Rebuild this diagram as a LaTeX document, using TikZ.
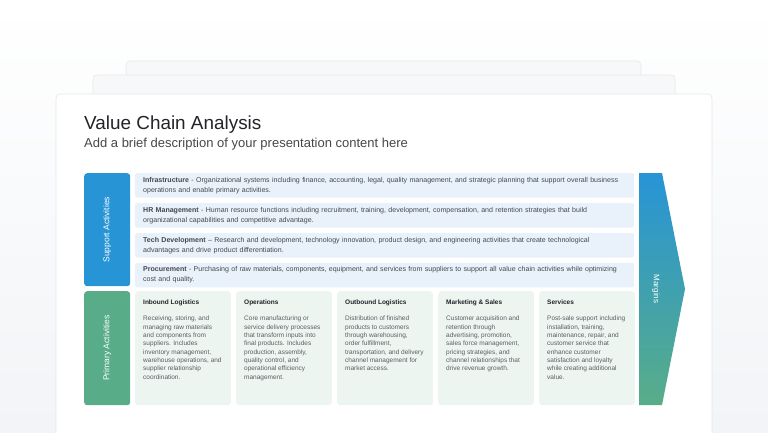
\documentclass[tikz,border=0pt]{standalone}
\usepackage{fontspec}
\setmainfont{Liberation Sans}
\usetikzlibrary{positioning}

\definecolor{supblue}{HTML}{2794D6}
\definecolor{primgreen}{HTML}{58AD88}
\definecolor{rowblue}{HTML}{E9F2FB}
\definecolor{colgreen}{HTML}{EDF5F1}
\definecolor{cardline}{HTML}{E4E7EB}
\definecolor{backcard}{HTML}{F7F8FA}
\definecolor{bgbottom}{HTML}{F2F4F7}
\definecolor{titletext}{HTML}{222428}
\definecolor{subtext}{HTML}{44474C}
\definecolor{bodytext}{HTML}{45484D}
\definecolor{coltext}{HTML}{5A5E63}

\begin{document}
\begin{tikzpicture}[x=1pt,y=-1pt,
  card/.style={draw=cardline,line width=0.6pt,rounded corners=4pt},
  sidebox/.style={rounded corners=3pt,minimum width=46pt,inner sep=0pt,text=white,font=\fontsize{8.5}{10}\selectfont},
  suprow/.style={fill=rowblue,rounded corners=2pt,minimum width=499pt,minimum height=24.5pt,text width=483pt,inner xsep=8pt,inner ysep=0pt,align=left,text=bodytext,font=\fontsize{7.05}{10}\selectfont},
  pcol/.style={fill=colgreen,rounded corners=3pt,minimum width=95.6pt,minimum height=114pt,inner sep=0pt},
  ptext/.style={anchor=north west,align=left,inner sep=0pt,text=coltext,font=\fontsize{6.5}{8.3}\selectfont},
  ptitle/.style={text=titletext}]

  \clip (0,0) rectangle (768,432);
  \shade[top color=white,bottom color=bgbottom] (0,0) rectangle (768,432);

  % stacked cards
  \filldraw[card,fill=backcard] (126,440) rectangle (641,61);
  \filldraw[card,fill=backcard] (93,440) rectangle (675,75);
  \filldraw[card,fill=white] (56,440) rectangle (712,94);

  \node[anchor=base west,inner sep=0pt,text=titletext,font=\fontsize{18.9}{21}\selectfont] (title) at (84,129) {Value Chain Analysis};
  \node[anchor=base west,inner sep=0pt,text=subtext,font=\fontsize{13}{15}\selectfont] (sub) at (84,147) {Add a brief description of your presentation content here};

  % support activities
  \node[sidebox,fill=supblue,minimum height=113pt,anchor=north west] (sup) at (84,173) {\rotatebox{90}{Support Activities}};
  \node[suprow,anchor=north west] (r1) at (135,173) {\textbf{Infrastructure} - Organizational systems including finance, accounting, legal, quality management, and strategic planning that support overall business\\operations and enable primary activities.};
  \node[suprow,below=5pt of r1] (r2) {\textbf{HR Management} - Human resource functions including recruitment, training, development, compensation, and retention strategies that build\\organizational capabilities and competitive advantage.};
  \node[suprow,below=5pt of r2] (r3) {\textbf{Tech Development} -- Research and development, technology innovation, product design, and engineering activities that create technological\\advantages and drive product differentiation.};
  \node[suprow,below=5pt of r3] (r4) {\textbf{Procurement} - Purchasing of raw materials, components, equipment, and services from suppliers to support all value chain activities while optimizing\\cost and quality.};

  % primary activities
  \node[sidebox,fill=primgreen,minimum height=114pt,anchor=north west] (prim) at (84,291) {\rotatebox{90}{Primary Activities}};
  \node[pcol,anchor=north west] (c1) at (135,291) {};
  \node[pcol,right=5pt of c1] (c2) {};
  \node[pcol,right=5pt of c2] (c3) {};
  \node[pcol,right=5pt of c3] (c4) {};
  \node[pcol,right=5pt of c4] (c5) {};

  \node[ptext] (t1) at ([xshift=8pt,yshift=-9pt]c1.north west) {\textbf{\textcolor{titletext}{Inbound Logistics}}\\[7.7pt]Receiving, storing, and\\managing raw materials\\and components from\\suppliers. Includes\\inventory management,\\warehouse operations, and\\supplier relationship\\coordination.};
  \node[ptext] (t2) at ([xshift=8pt,yshift=-9pt]c2.north west) {\textbf{\textcolor{titletext}{Operations}}\\[7.7pt]Core manufacturing or\\service delivery processes\\that transform inputs into\\final products. Includes\\production, assembly,\\quality control, and\\operational efficiency\\management.};
  \node[ptext] (t3) at ([xshift=8pt,yshift=-9pt]c3.north west) {\textbf{\textcolor{titletext}{Outbound Logistics}}\\[7.7pt]Distribution of finished\\products to customers\\through warehousing,\\order fulfillment,\\transportation, and delivery\\channel management for\\market access.};
  \node[ptext] (t4) at ([xshift=8pt,yshift=-9pt]c4.north west) {\textbf{\textcolor{titletext}{Marketing \& Sales}}\\[7.7pt]Customer acquisition and\\retention through\\advertising, promotion,\\sales force management,\\pricing strategies, and\\channel relationships that\\drive revenue growth.};
  \node[ptext] (t5) at ([xshift=8pt,yshift=-9pt]c5.north west) {\textbf{\textcolor{titletext}{Services}}\\[7.7pt]Post-sale support including\\installation, training,\\maintenance, repair, and\\customer service that\\enhance customer\\satisfaction and loyalty\\while creating additional\\value.};

  % margins arrow
  \shade[top color=supblue,bottom color=primgreen] (639,173) -- (662,173) -- (685,289) -- (662,405) -- (639,405) -- cycle;
  \node[text=white,rotate=-90,inner sep=0pt,font=\fontsize{8}{9}\selectfont] (marg) at (656,289) {Margins};
\end{tikzpicture}
\end{document}
